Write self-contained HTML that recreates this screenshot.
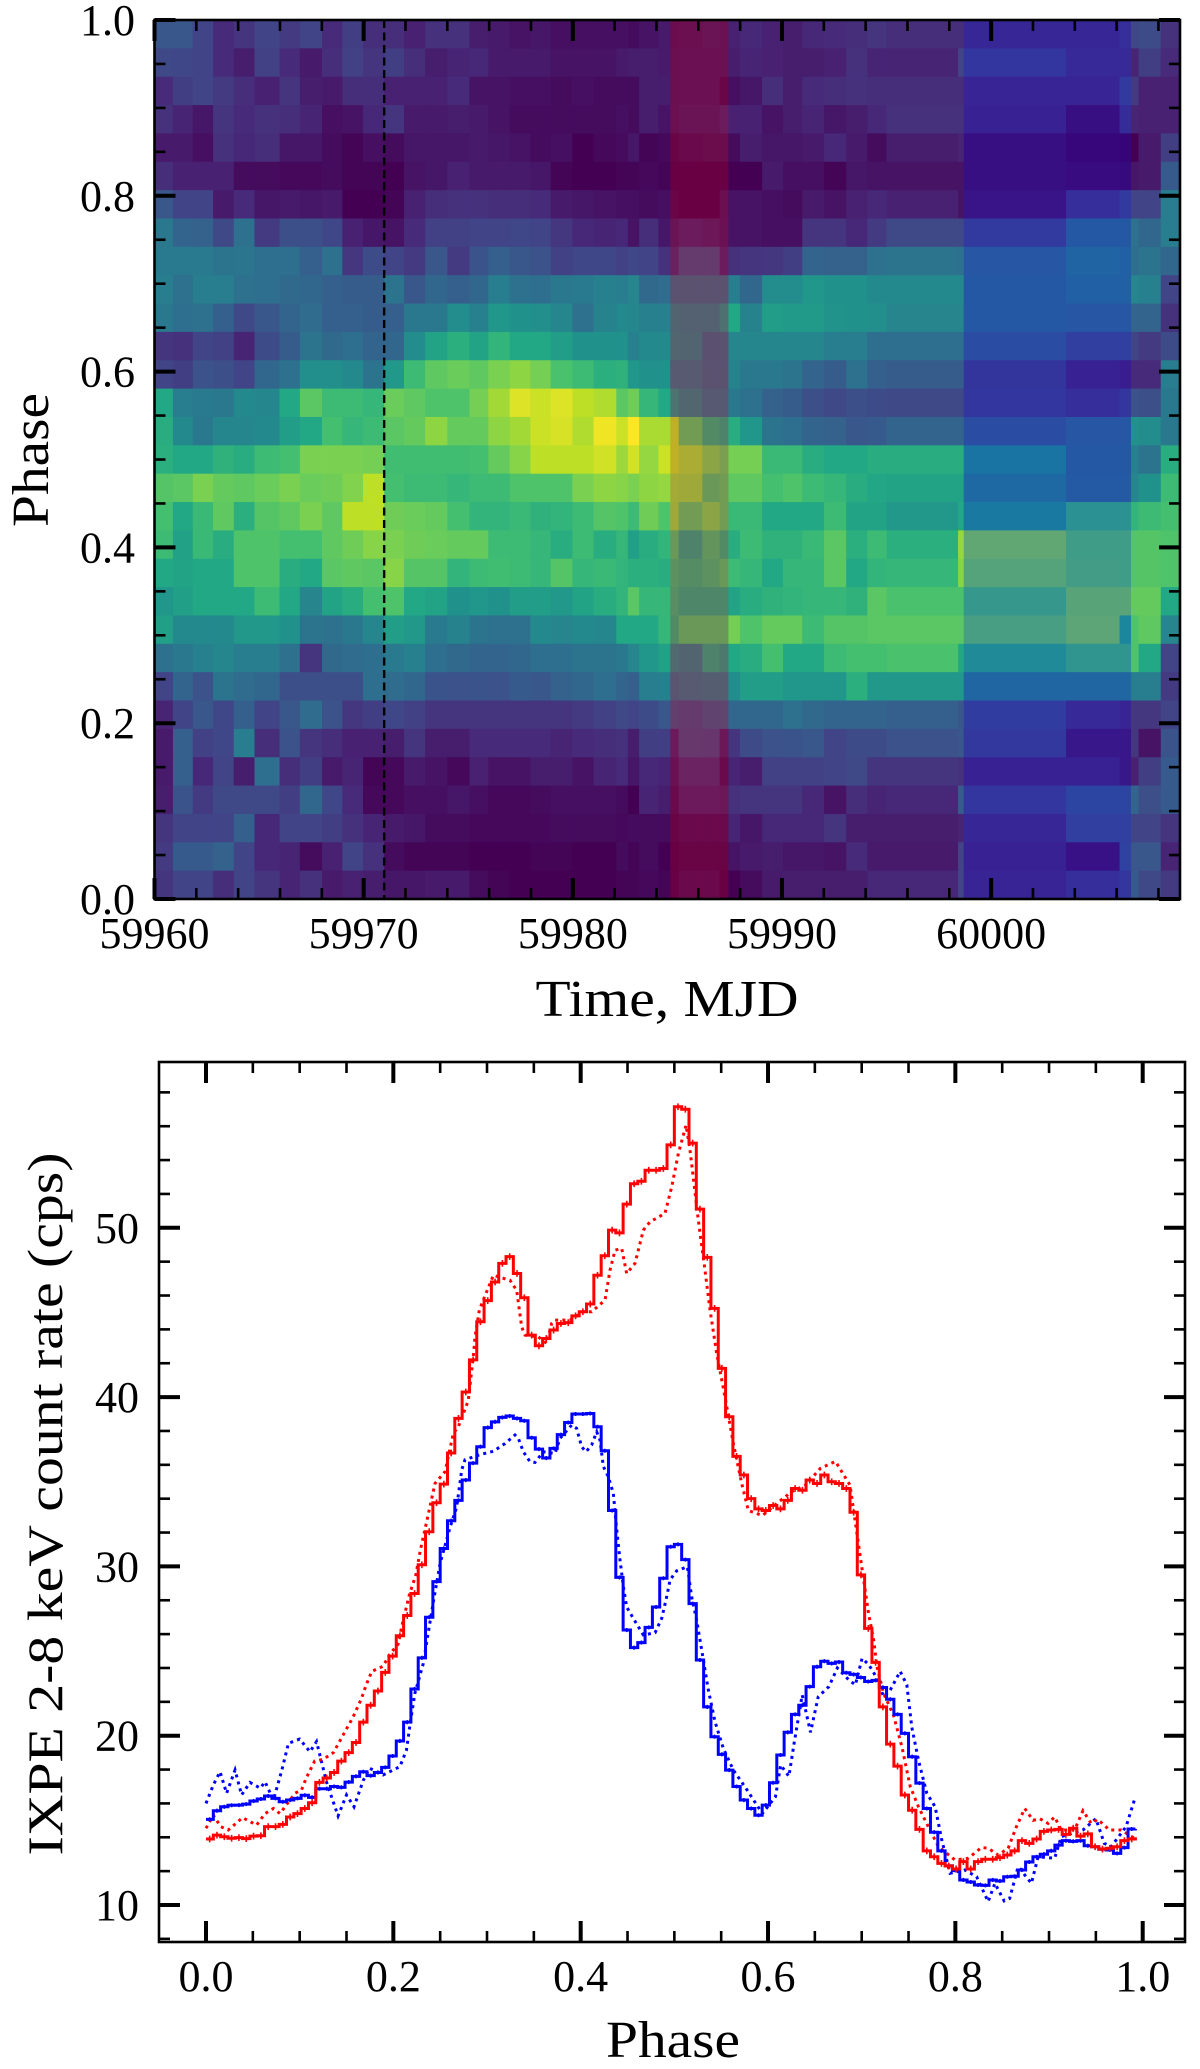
<!DOCTYPE html>
<html lang="en">
<head>
<meta charset="utf-8">
<title>IXPE phase-time map and pulse profile</title>
<style>
html,body{margin:0;padding:0;background:#fff;}
svg{display:block;}
text{font-family:"Liberation Serif",serif;fill:#000;}
</style>
</head>
<body>
<svg id="fig" xmlns="http://www.w3.org/2000/svg" width="1200" height="2069" viewBox="0 0 1200 2069">
  <g id="topPanel"></g>
  <g id="botPanel"></g>
</svg>
<script>
// ---- heatmap data ----
const mjdStart = 59960;
const timeEdgeOffsets = [0,.88,1.83,2.8,3.79,4.78,5.98,6.95,8.01,8.98,9.97,10.98,11.93,12.94,14,15.06,15.96,16.98,17.97,18.94,19.98,20.99,22.08,22.63,23.17,24.09,24.66,25.06,26.19,27.02,27.44,27.99,29.05,30.05,30.97,32.01,33.07,34.08,35,38.42,38.69,43.58,46.14,46.69,47.05,48.11,49.03];
// rows from phase 1.0 (top) to phase 0.0 (bottom), viridis level in percent
const heatRows = [
[27,27,20,12,15,20,17,20,12,18,13,13,9,14,14,8,7,5,6,4,4,4,4,3,5,7,4,5,7,6,9,11,9,8,11,12,13,15,13,13,14,14,17,21,23,14],
[22,21,20,12,8,19,12,7,13,19,15,18,13,8,10,11,7,7,7,5,5,5,7,8,8,7,5,6,6,6,8,10,9,8,8,9,14,10,10,20,20,15,15,10,18,12],
[12,18,20,17,13,9,15,8,7,13,13,9,9,9,12,5,5,4,4,3,4,3,3,3,8,8,5,6,6,2,4,6,13,8,12,13,14,13,13,13,13,13,22,17,9,9],
[14,10,6,15,12,14,13,10,4,5,11,15,7,7,8,7,5,3,3,3,3,3,4,3,8,5,5,7,7,10,9,9,5,8,10,6,8,11,14,14,12,5,16,10,9,9],
[7,7,4,14,11,13,6,6,3,1,4,3,6,6,6,7,6,5,3,4,0,2,3,6,1,2,1,3,4,4,3,8,6,6,7,11,7,3,8,10,5,2,1,0,7,18],
[13,9,9,9,3,3,2,2,3,1,1,0,5,6,9,7,7,7,6,1,0,0,1,1,2,1,0,0,0,0,0,0,7,4,4,1,6,5,5,5,5,4,3,6,7,28],
[27,20,20,7,12,6,7,6,7,0,0,1,9,13,14,14,13,13,12,7,6,5,4,4,3,4,2,0,0,5,5,5,4,3,7,5,9,11,9,5,7,17,22,20,20,42],
[40,32,31,22,37,17,24,24,21,9,6,5,12,19,19,20,20,21,20,16,11,10,11,5,13,6,7,10,8,6,5,5,4,4,15,15,11,17,22,22,22,36,36,37,33,42],
[41,41,41,38,39,36,36,30,37,16,23,20,17,27,17,26,30,27,25,19,21,21,19,21,20,14,12,22,22,10,14,15,16,18,32,31,31,37,38,37,35,42,40,36,38,33],
[42,37,42,42,37,36,34,33,30,29,29,38,27,33,30,33,42,37,36,40,41,43,42,45,34,35,33,33,33,33,42,33,48,48,52,50,50,47,47,47,36,40,40,45,43,20],
[40,36,37,30,22,27,32,35,30,30,29,30,40,40,48,43,52,50,49,46,37,44,47,46,43,43,42,41,41,48,60,44,55,54,54,51,50,49,45,45,36,35,35,32,32,14],
[15,14,20,19,10,23,29,38,34,36,32,33,48,58,63,58,65,60,60,55,50,50,50,43,47,47,43,42,32,33,45,46,46,46,46,42,42,36,36,36,30,24,24,20,17,23],
[20,18,25,24,20,33,37,49,49,47,38,53,68,75,77,75,80,83,79,71,68,63,64,52,50,50,37,37,33,33,44,40,40,38,32,29,37,30,29,29,19,12,10,12,12,42],
[60,42,41,40,47,46,60,74,68,68,66,77,75,72,72,79,86,95,92,95,90,88,74,78,66,60,50,43,36,36,40,37,31,29,24,22,24,23,22,22,20,17,20,25,24,40],
[62,47,40,46,46,47,55,60,70,66,68,74,76,83,76,76,83,86,92,94,88,98,92,100,87,87,88,72,62,58,62,52,38,36,32,31,27,28,32,32,30,35,35,50,48,40],
[63,60,60,64,62,68,70,80,80,80,79,69,69,69,69,70,76,82,90,90,90,93,85,93,84,92,88,84,78,74,79,79,67,67,62,60,60,62,62,62,50,36,36,43,38,62],
[73,74,80,76,75,77,80,77,78,81,90,70,68,68,66,68,68,72,72,72,80,83,82,80,83,84,83,82,70,72,75,75,70,72,68,66,62,59,58,58,44,37,37,45,50,68],
[70,60,67,75,63,73,75,80,75,90,90,78,77,76,70,65,65,67,64,65,68,73,72,68,78,72,82,72,78,72,67,67,60,60,60,68,58,58,53,60,53,66,66,65,68,70],
[68,57,67,62,72,72,70,70,75,78,82,80,78,77,76,76,68,68,66,62,68,62,66,56,62,65,70,58,68,62,62,68,64,64,67,74,63,68,63,84,80,72,72,73,73,72],
[60,58,60,60,72,72,62,60,74,75,74,82,73,73,65,68,69,68,66,73,66,67,65,63,63,62,66,63,66,70,68,66,60,66,66,74,60,65,66,82,77,73,72,73,73,72],
[52,56,60,60,60,68,60,45,58,62,70,72,60,58,50,52,50,55,55,53,58,62,65,74,66,66,64,60,60,60,58,62,64,65,66,66,64,74,71,71,70,78,78,76,76,60],
[56,47,47,47,53,53,50,38,37,40,46,55,53,41,44,38,37,37,47,45,47,46,60,60,60,66,62,70,70,70,79,72,76,76,68,73,73,74,74,74,74,79,60,72,75,45],
[37,40,43,46,42,42,37,15,34,35,36,41,43,36,34,32,32,33,36,36,38,38,40,45,52,57,45,42,58,52,60,62,70,60,60,68,70,70,71,60,62,68,68,72,60,20],
[20,32,25,38,35,33,24,24,24,24,36,35,33,26,25,26,25,28,27,31,33,36,32,30,42,43,34,37,39,39,48,55,55,52,52,52,63,53,53,53,43,43,43,42,42,17],
[10,20,27,21,30,20,27,35,25,16,18,21,19,15,15,15,15,15,15,15,17,19,22,20,23,27,24,22,26,27,33,33,33,37,34,32,32,32,30,27,23,15,13,16,16,20],
[7,30,19,21,42,13,25,15,13,9,9,8,15,8,8,12,12,12,12,10,12,13,14,8,18,18,9,21,20,8,15,23,25,26,27,20,23,23,25,27,21,8,8,16,5,26],
[7,30,11,20,8,36,13,18,7,10,1,2,7,5,2,9,5,5,8,8,5,10,12,6,11,10,6,13,13,3,10,8,19,19,19,20,22,15,15,14,12,12,8,9,18,28],
[8,26,17,22,22,22,18,33,21,12,2,2,4,4,6,4,2,2,3,4,4,4,3,0,10,8,3,9,9,8,14,15,15,15,11,5,13,10,11,29,20,27,27,32,24,28],
[15,20,20,20,30,11,20,20,18,14,10,7,6,3,3,2,2,2,2,3,3,3,2,3,3,3,1,3,3,3,10,6,11,11,11,15,8,8,8,10,14,24,24,20,20,15],
[17,28,28,31,20,11,10,3,9,20,14,3,1,1,1,0,0,0,1,1,0,0,3,1,3,0,0,1,1,1,5,7,8,6,6,5,12,7,7,20,12,6,25,27,27,10],
[15,20,20,13,20,15,10,14,7,9,8,6,6,7,7,3,1,0,0,0,0,0,1,1,2,1,0,3,3,0,0,3,7,8,8,8,8,11,11,20,13,17,20,28,22,17]
];
const redBandMjd = [59984.66, 59987.44];
const blueBandMjd = [59998.69, 60006.69];
const eventMjd = 59970.98;
const timeMajorTicks = [59960,59970,59980,59990,60000];
const timeTickLabels = ["59960","59970","59980","59990","60000"];
const phaseTicks = [0,0.2,0.4,0.6,0.8,1.0];
const phaseTickLabels = ["0.0","0.2","0.4","0.6","0.8","1.0"];

// ---- profile data (128 phase bins) ----
const redSteps = [13.9,14.13,14.03,13.94,13.98,13.92,14.07,14.09,14.63,14.63,14.76,15.2,15.4,15.7,16.04,17.24,17.5,17.83,18.5,19.0,19.6,20.8,21.8,22.64,23.74,24.7,25.9,27.1,28.4,30.1,32.05,33.76,34.86,36.7,38.74,40.3,42.2,44.45,45.7,46.8,47.9,48.3,47.3,45.87,43.66,43.03,43.46,43.96,44.35,44.4,44.8,45.04,45.5,47.2,48.35,49.86,49.7,51.4,52.6,52.75,53.4,53.4,53.5,54.9,57.15,57.0,55.0,51.1,48.25,45.24,41.7,38.84,36.5,35.4,34.0,33.4,33.3,33.6,33.4,33.9,34.6,34.5,35.1,34.9,35.4,35.0,34.9,34.6,33.2,29.5,26.34,24.33,21.7,19.5,18.2,16.5,15.6,14.47,13.2,12.85,12.46,12.3,12.13,12.56,12.13,12.56,12.7,12.7,12.8,12.95,13.2,13.8,13.64,13.9,14.35,14.43,14.47,14.17,14.53,14.07,14.2,13.44,13.3,13.35,13.44,13.8,13.9,14.0];
const blueSteps = [15.06,15.57,15.8,15.89,15.9,15.96,16.14,16.26,16.44,16.3,16.1,16.2,16.3,16.48,16.36,16.87,16.87,17,16.95,17.26,17.6,17.87,17.64,17.83,18.13,18.8,19.69,20.8,22.76,24.6,27,29.1,31.06,32.7,33.9,35.1,36.1,37.07,38.2,38.54,38.8,38.88,38.74,38.6,37.6,36.93,36.4,36.97,37.78,38.5,39,39,39.03,38.25,36.83,33.3,29.35,26.24,25.2,25.5,26.4,27.6,29.3,31.16,31.3,30.4,27.8,24.47,21.7,19.94,18.9,17.97,17,16.2,15.7,15.3,15.9,17.22,18.86,20.2,21.26,21.8,22.9,24.07,24.4,24.27,24.35,23.72,23.62,23.44,23.2,23.27,22.85,22.15,21.26,20.14,18.76,17.2,15.7,14.3,13.2,12.32,12.03,11.48,11.36,11.18,11.16,11.48,11.42,11.67,11.7,12.07,12.54,12.85,13,13.2,13.54,13.8,13.76,13.8,13.5,13.44,13.29,13.25,13.05,13.39,14.49,14.5];
const redDottedPhase = [0,.0078,.0157,.0238,.039,.054,.063,.072,.079,.095,.102,.107,.116,.125,.136,.143,.157,.166,.171,.177,.189,.196,.205,.21,.217,.224,.229,
.237,.2445,.2552,.264,.2694,.28,.2854,.2872,.2918,.296,.3068,.3246,.3317,.337,.3406,.3548,.3637,.369,.3726,.3886,.4028,.4117,.426,.4313,.4367,.4438,.4491,.458,.4669,.474,.49,.4972,.5043,.5125,.5167,.5256,.5327,.5381,.5452,.5541,.563,.5719,.579,
.594,.609,.625,.64,.656,.672,.6875,.7,
.7074,.7128,.7163,.7234,.734,.7429,.7518,.7606,.7713,.782,.7996,.8138,.828,.8351,.8457,.8564,.8652,.8741,.883,.89,.899,.906,.913,.9273,.9362,.945,.952,.9645,.977,.9911];
const redDottedRate = [14.53,15.3,14.63,14.43,15.16,14.72,15.4,15.7,15.4,16.6,16.8,17.5,18.5,18.6,19,19.7,21.1,22.2,23,23.8,24.1,24.8,25.4,26.7,28.3,29.5,31,
33,34.9,35.6,37.85,38.25,39.8,42.4,43.56,45.14,45.73,47.2,46.9,46.3,44.15,43.66,43.56,43.17,44.35,44.55,44.55,45.04,45.04,45.73,47.5,48.68,48.78,47.3,47.9,49.86,50.35,50.85,52.42,54.4,56.06,54.6,50.45,47.5,45.14,42.58,40,37.26,34.9,33.3,
33,33.7,34.4,34.8,35.8,36.2,34.8,30,
27.2,25.65,24.07,22.5,21.2,19.35,17,15.8,14.6,13.44,12.66,12.76,13.4,13.35,12.95,13.35,14.63,15.7,15,15.1,14.82,15.2,14.43,14.43,15.57,14.82,15.06,14.43,14.43,13.94];
const blueDottedPhase = [0,.0078,.015,.022,.031,.038,.047,.058,.063,.072,.081,.088,.1,.111,.118,.129,.141,.15,.158,.168,.175,.189,.207,.214,.218,.223,.232,.237,.243,.25,
.2605,.2676,.273,.2765,.2925,.3068,.3192,.3299,.3335,.3388,.3459,.3512,.3601,.3726,.3779,.3904,.3957,.401,.4057,.4117,.4171,.4206,.4242,.4295,.4349,.4384,
.442,.4456,.4491,.4562,.4669,.4794,.4865,.4918,.4954,.5025,.5139,.5185,.5238,.5292,.5363,.5434,.5523,.563,.5772,.594,
.601,.608,.6135,.6223,.6277,.6365,.6454,.6536,.665,.674,.6862,.6933,.7004,.7075,.7163,.7234,.7305,.7411,.7482,.7535,.7606,.7695,.7784,.7855,.7943,.81,.8227,.835,.8422,.8521,.858,.867,.8812,.8883,.906,.9131,.9362,.95,.959,.9663,.9823,.9911];
const blueDottedRate = [16,17.09,17.87,16.6,17.97,16.5,17.24,16.9,17.28,16.2,17.97,19.55,19.8,19.05,19.65,17.2,15.26,16.5,15.8,17.38,18.07,17.68,18.17,19.15,20.73,22.5,24.27,26,28,30.2,
32.3,33.5,35.7,36.3,36.6,36.8,37.26,37.76,37.56,36.77,36.18,36.14,36.77,36.67,37.56,38.35,38.15,37.07,36.77,37.17,37.95,37.46,35.9,35.3,34.3,32.2,
30.37,28.8,27.6,26.93,25.95,26.08,26.93,28.2,29.2,29.74,29.98,28.2,26.83,25.06,22.7,20.83,19.25,17.97,16.83,15.4,
15.9,16.4,18.27,17.6,19.5,22.4,20.2,22.3,22.9,24,23.3,23,24.57,24.2,23.4,22.3,22.7,23.8,23,20.5,18.56,16.6,15.8,13.84,11.87,12.07,11.67,10.2,11.28,10.24,10.39,12.26,11.28,12.85,12.76,14.04,14.43,15.1,13.64,13.44,14.63,16.2];
const rateTicks = [10,20,30,40,50];
const rateTickLabels = ["10","20","30","40","50"];
const profilePhaseTicks = [0,0.2,0.4,0.6,0.8,1.0];
const profilePhaseLabels = ["0.0","0.2","0.4","0.6","0.8","1.0"];

// ---- colour map ----
const viridisStops = ["#440154","#482475","#414487","#355f8d","#2a788e","#21918c","#22a884","#44bf70","#7ad151","#bddf26","#fde725"];
function viridis(v){
  const t = Math.max(0, Math.min(1, v)) * (viridisStops.length - 1);
  const i = Math.min(Math.floor(t), viridisStops.length - 2);
  const f = t - i;
  const a = viridisStops[i], b = viridisStops[i + 1];
  const ch = function(s){ const p = parseInt(a.substr(s, 2), 16), q = parseInt(b.substr(s, 2), 16); return Math.round(p + (q - p) * f); };
  return "rgb(" + ch(1) + "," + ch(3) + "," + ch(5) + ")";
}

// ---- axes ----
const top_ = {l:154.5, r:1180, t:20, b:899, xMin:59960, xMax:60009.03, yMin:0, yMax:1};
const bot_ = {l:159, r:1185, t:1062, b:1942, x0:206, xScale:936.7, y10:1905, yScale:16.93};
function xTime(t){ return top_.l + (t - top_.xMin) * (top_.r - top_.l) / (top_.xMax - top_.xMin); }
function yPhase(p){ return top_.b - (p - top_.yMin) * (top_.b - top_.t) / (top_.yMax - top_.yMin); }
function xProfile(p){ return bot_.x0 + p * bot_.xScale; }
function yRate(r){ return bot_.y10 - (r - 10) * bot_.yScale; }

const NS = "http://www.w3.org/2000/svg";
function mk(parent, tag, attrs, txt){
  const el = document.createElementNS(NS, tag);
  for (const k in attrs) el.setAttribute(k, attrs[k]);
  if (txt !== undefined) el.textContent = txt;
  parent.appendChild(el);
  return el;
}
const topG = document.getElementById("topPanel");
const botG = document.getElementById("botPanel");
const FS = 44;

// ---- heatmap cells ----
const nRows = heatRows.length;
heatRows.forEach(function(row, r){
  const pHi = 1 - r / nRows, pLo = 1 - (r + 1) / nRows;
  row.forEach(function(val, c){
    const x0 = xTime(mjdStart + timeEdgeOffsets[c]);
    const x1 = xTime(mjdStart + timeEdgeOffsets[c + 1]);
    const cell = mk(topG, "rect", {x:x0, y:yPhase(pHi), width:x1 - x0 + 0.4, height:yPhase(pLo) - yPhase(pHi) + 0.4, fill:viridis(val / 100)});
    
    
  });
});

// ---- bands and event line ----
const redBand = mk(topG, "rect", {x:xTime(redBandMjd[0]), y:top_.t, width:xTime(redBandMjd[1]) - xTime(redBandMjd[0]), height:top_.b - top_.t, fill:"#ff0000", "fill-opacity":0.2});


const blueBand = mk(topG, "rect", {x:xTime(blueBandMjd[0]), y:top_.t, width:xTime(blueBandMjd[1]) - xTime(blueBandMjd[0]), height:top_.b - top_.t, fill:"#0000ff", "fill-opacity":0.2});


const eventLine = mk(topG, "line", {x1:xTime(eventMjd), x2:xTime(eventMjd), y1:top_.t, y2:top_.b, stroke:"#000", "stroke-width":2.4, "stroke-dasharray":"8 4.5"});



// ---- tick helper ----
function tick(parent, x1, y1, x2, y2, major, name){
  const t = mk(parent, "line", {x1:x1, y1:y1, x2:x2, y2:y2, stroke:"#000", "stroke-width":major ? 4 : 2.6});
  
  
}
const MAJ = 21, MIN = 11;

// ---- top panel ticks ----
for (let t = 59960; t <= 60008; t += 2){
  const major = timeMajorTicks.indexOf(t) >= 0;
  const len = major ? MAJ : MIN;
  tick(topG, xTime(t), top_.b, xTime(t), top_.b - len, major, 'time-tick-bottom');
  tick(topG, xTime(t), top_.t, xTime(t), top_.t + len, major, 'time-tick-top');
}
for (let k = 0; k <= 20; k++){
  const p = k / 20;
  const major = k % 4 === 0;
  const len = major ? MAJ : MIN;
  tick(topG, top_.l, yPhase(p), top_.l + len, yPhase(p), major, 'phase-tick-left');
  tick(topG, top_.r, yPhase(p), top_.r - len, yPhase(p), major, 'phase-tick-right');
}
const topFrame = mk(topG, "rect", {x:top_.l, y:top_.t, width:top_.r - top_.l, height:top_.b - top_.t, fill:"none", stroke:"#000", "stroke-width":2.6});


timeMajorTicks.forEach(function(t, i){
  const lb = mk(topG, "text", {x:xTime(t), y:948, "text-anchor":"middle", "font-size":FS}, timeTickLabels[i]);
  
  
});
phaseTicks.forEach(function(p, i){
  const lb = mk(topG, "text", {x:135, y:yPhase(p) + 15, "text-anchor":"end", "font-size":FS}, phaseTickLabels[i]);
  
  
});
const topX = mk(topG, "text", {x:667, y:1016, "text-anchor":"middle", "font-size":52, textLength:263, lengthAdjust:"spacingAndGlyphs"}, "Time, MJD");


const topY = mk(topG, "text", {transform:"translate(48,460) rotate(-90)", "text-anchor":"middle", "font-size":52, textLength:134, lengthAdjust:"spacingAndGlyphs"}, "Phase");



// ---- bottom panel ----
const botBg = mk(botG, "rect", {x:bot_.l, y:bot_.t, width:bot_.r - bot_.l, height:bot_.b - bot_.t, fill:"#fff"});



function phaseOfBin(i){ return i / 128; }

function dottedPath(phases, vals){
  let d = "";
  vals.forEach(function(v, j){ d += (j ? "L" : "M") + xProfile(phases[j]).toFixed(2) + " " + yRate(v).toFixed(2); });
  return d;
}
function stepPath(vals){
  let d = "";
  vals.forEach(function(v, i){
    const x = xProfile(phaseOfBin(i)).toFixed(2), y = yRate(v).toFixed(2);
    if (i === 0) d += "M" + x + " " + y;
    else d += "H" + x + "V" + y;
  });
  return d;
}
function errPath(vals, half){
  let d = "";
  vals.forEach(function(v, i){
    if (i === vals.length - 1) return;
    const x = xProfile(phaseOfBin(i + 0.5)).toFixed(2);
    d += "M" + x + " " + yRate(v + half).toFixed(2) + "V" + yRate(v - half).toFixed(2);
  });
  return d;
}
const blueDots = mk(botG, "path", {d:dottedPath(blueDottedPhase, blueDottedRate), fill:"none", stroke:"#0000ff", "stroke-width":3, "stroke-dasharray":"3 4.2"});


const redDots = mk(botG, "path", {d:dottedPath(redDottedPhase, redDottedRate), fill:"none", stroke:"#ff0000", "stroke-width":3, "stroke-dasharray":"3 4.2"});


const blueLine = mk(botG, "path", {d:stepPath(blueSteps), fill:"none", stroke:"#0000ff", "stroke-width":3});


const blueErr = mk(botG, "path", {d:errPath(blueSteps, 0.12), fill:"none", stroke:"#0000ff", "stroke-width":1.6});


const redLine = mk(botG, "path", {d:stepPath(redSteps), fill:"none", stroke:"#ff0000", "stroke-width":3});


const redErr = mk(botG, "path", {d:errPath(redSteps, 0.2), fill:"none", stroke:"#ff0000", "stroke-width":1.6});



for (let k = 0; k <= 20; k++){
  const p = k / 20;
  const major = k % 4 === 0;
  const len = major ? MAJ : MIN;
  tick(botG, xProfile(p), bot_.b, xProfile(p), bot_.b - len, major, 'profile-phase-tick-bottom');
  tick(botG, xProfile(p), bot_.t, xProfile(p), bot_.t + len, major, 'profile-phase-tick-top');
}
for (let r = 8; r <= 58; r += 2){
  const major = rateTicks.indexOf(r) >= 0;
  const len = major ? MAJ : MIN;
  tick(botG, bot_.l, yRate(r), bot_.l + len, yRate(r), major, 'rate-tick-left');
  tick(botG, bot_.r, yRate(r), bot_.r - len, yRate(r), major, 'rate-tick-right');
}
const botFrame = mk(botG, "rect", {x:bot_.l, y:bot_.t, width:bot_.r - bot_.l, height:bot_.b - bot_.t, fill:"none", stroke:"#000", "stroke-width":2.6});


profilePhaseTicks.forEach(function(p, i){
  const lb = mk(botG, "text", {x:xProfile(p), y:1991, "text-anchor":"middle", "font-size":FS}, profilePhaseLabels[i]);
  
  
});
rateTicks.forEach(function(r, i){
  const lb = mk(botG, "text", {x:139, y:yRate(r) + 15, "text-anchor":"end", "font-size":FS}, rateTickLabels[i]);
  
  
});
const botX = mk(botG, "text", {x:673, y:2057, "text-anchor":"middle", "font-size":52, textLength:134, lengthAdjust:"spacingAndGlyphs"}, "Phase");


const botY = mk(botG, "text", {transform:"translate(62,1504) rotate(-90)", "text-anchor":"middle", "font-size":50, textLength:703, lengthAdjust:"spacingAndGlyphs"}, "IXPE 2-8 keV count rate (cps)");


</script>
</body>
</html>
